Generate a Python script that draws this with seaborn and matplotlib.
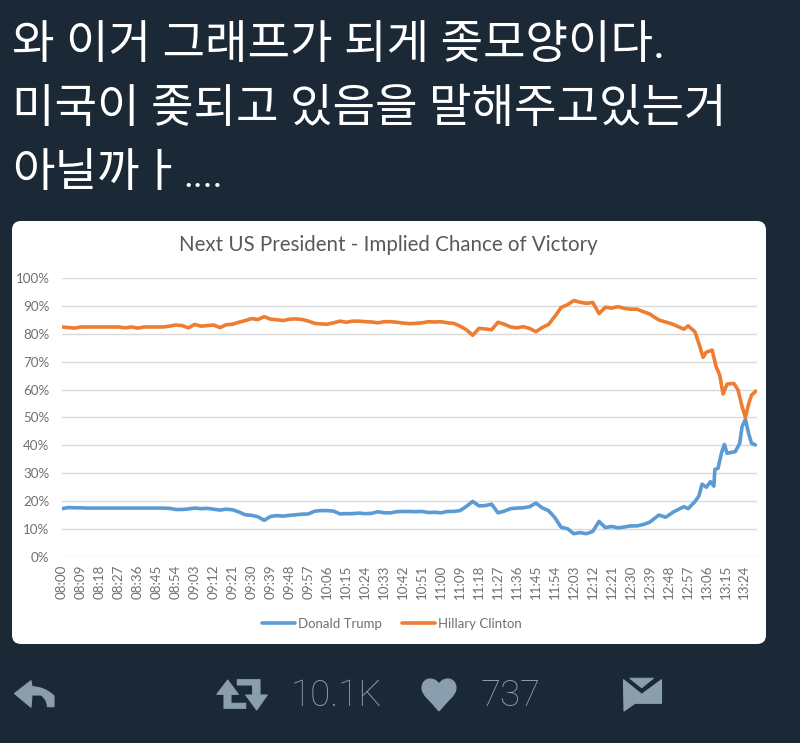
import numpy as np
import pandas as pd
import matplotlib
matplotlib.use("Agg")
import matplotlib.pyplot as plt
from matplotlib.patches import FancyBboxPatch, Polygon, PathPatch
from matplotlib.path import Path
import seaborn as sns

trump_minutes = list(range(0, 282, 3)) + [283.4,286.6,290.5,295.3,297.3,300.5,302.4,303.9,306,307.9,309.5,310,311.5,
                                          313.1,314.5,315.8,319.7,321.8,322.9,324.5,326,327.4,329.3]
trump = [17.2,17.6,17.5,17.5,17.4,17.4,17.4,17.4,17.4,17.4,17.4,17.4,17.4,17.4,17.4,17.4,17.4,17.3,
         16.9,16.9,17.1,17.4,17.2,17.3,17.0,16.7,17.0,16.8,16.0,15.0,14.8,14.3,13.0,14.4,14.7,14.5,
         14.8,15.0,15.2,15.3,16.3,16.5,16.5,16.3,15.3,15.4,15.4,15.6,15.4,15.5,16.1,15.7,15.7,16.1,
         16.2,16.2,16.1,16.2,15.8,15.9,15.7,16.2,16.2,16.5,18.0,19.8,18.2,18.3,18.8,15.7,16.3,17.2,
         17.4,17.5,17.9,19.2,17.5,16.5,14.0,10.5,10.0,8.2,8.6,8.2,9.0,12.6,10.4,10.8,10.3,10.6,
         11.0,11.0,11.5,12.3,
         14.9,14.1,16.1,17.9,17.2,19.7,21.7,26.0,24.9,26.9,25.3,31.3,31.7,37.1,40.3,37.1,37.7,40.7,46.7,49.3,44.3,40.7,40.1]
clinton_minutes = list(range(0, 282, 3)) + [283.4,289.7,295.3,297.3,300.5,302.4,304.4,305.8,308.7,310.6,312.3,313.9,
                                            315.8,319,321,322.9,324.5,326.1,327.4,329.5]
clinton = [82.5,82.3,82.1,82.5,82.5,82.5,82.5,82.5,82.5,82.5,82.2,82.5,82.1,82.5,82.5,82.5,82.5,82.8,
           83.2,83.0,82.2,83.4,82.8,83.0,83.2,82.3,83.3,83.5,84.2,84.8,85.5,85.2,86.2,85.3,85.1,84.8,
           85.3,85.4,85.2,84.6,83.8,83.6,83.5,84.0,84.6,84.2,84.6,84.6,84.4,84.3,84.0,84.4,84.4,84.2,
           83.9,83.7,83.8,84.0,84.4,84.3,84.4,84.0,83.8,82.8,81.5,79.5,82.0,81.8,81.5,84.2,83.5,82.5,
           82.2,82.6,82.0,80.8,82.3,83.4,86.3,89.5,90.5,92.0,91.4,91.0,91.3,87.3,89.6,89.3,89.8,89.2,
           88.9,88.9,88.0,87.2,
           85.0,83.6,81.7,82.9,80.8,76.6,71.6,73.4,74.2,68.2,65.2,58.4,62.0,62.2,59.9,53.9,50.0,55.0,58.0,59.5]
tick_minutes = list(range(0, 325, 9))
y_ticks = list(range(0, 101, 10))
series_names = ["Donald Trump", "Hillary Clinton"]
series_colors = ["#5B9BD5", "#ED7D31"]
headline = ["와 이거 그래프가 되게 좆모양이다.", "미국이 좆되고 있음을 말해주고있는거", "아닐까ㅏ"]
headline_tail = "...."
title = "Next US President - Implied Chance of Victory"
retweets = "10.1K"
likes = "737"

BG = "#1B2836"
ICON = "#8B9EAD"
GREY = "#707070"

sns.set_theme(style="white")
plt.rcParams["font.family"] = ["Lato", "DejaVu Sans"]

W, H = 800, 743
fig = plt.figure(figsize=(W / 100, H / 100), dpi=100, facecolor=BG)

ov = fig.add_axes([0, 0, 1, 1], zorder=0)
ov.set_xlim(0, W); ov.set_ylim(H, 0); ov.axis("off")
ov.add_patch(FancyBboxPatch((12 + 9, 221 + 9), 754 - 18, 423 - 18, boxstyle="round,pad=9", fc="white", ec="none"))

kr = ["Roboto", "Noto Sans CJK KR", "DejaVu Sans"]
for text, yb in zip(headline, [58, 122, 186]):
    ov.text(12, yb, text, color="white", fontsize=33.3, family=kr, va="baseline", ha="left")
ov.text(183, 187, headline_tail, color="white", fontsize=27, family="Roboto", va="baseline", ha="left")

ov.text(388.5, 245, title, color="#595959", fontsize=14.8, ha="center", va="center")

icon = dict(fc=ICON, ec=ICON, lw=0.8, joinstyle="round")
ov.add_patch(PathPatch(Path([(14.5, 693.5), (31, 680.7), (32, 686.7), (45, 687), (54, 696), (54, 706.7), (47.5, 706.7),
                             (47, 699), (41, 695), (32, 695), (31, 707.3), (14.5, 693.5)],
                            [Path.MOVETO, Path.LINETO, Path.LINETO, Path.CURVE3, Path.CURVE3, Path.LINETO, Path.LINETO,
                             Path.CURVE3, Path.CURVE3, Path.LINETO, Path.LINETO, Path.CLOSEPOLY]), **icon))
ov.add_patch(Polygon([(227.7, 680), (216.9, 694.3), (224, 694.3), (224, 708.3), (245.7, 708.3), (245.7, 703.3),
                      (231, 703.3), (231, 694.3), (238.3, 694.3)], closed=True, **icon))
ov.add_patch(Polygon([(256.7, 710), (267.3, 695), (260, 695), (260, 679.7), (237.3, 679.7), (237.3, 685),
                      (252.7, 685), (252.7, 695), (245.7, 695)], closed=True, **icon))
heart = Path([(439, 711), (430, 700), (422, 695), (422, 688), (422, 682), (426, 679), (430, 679), (434, 679), (437, 681),
              (439, 684), (441, 681), (444, 679), (448, 679), (452, 679), (456, 682), (456, 688), (456, 695), (448, 700), (439, 711)],
             [Path.MOVETO] + [Path.CURVE4] * 18)
ov.add_patch(PathPatch(heart, **icon))
ov.add_patch(Polygon([(623.5, 679.7), (641.7, 694.3), (661.5, 679.7), (661.5, 703.3), (635, 703.3), (624, 711)], closed=True, **icon))
ov.add_patch(Polygon([(630, 678.3), (653.3, 678.3), (641.7, 687.7)], closed=True, **icon))
ov.text(291, 696, retweets, color=ICON, fontsize=26.4, family="Roboto", fontweight="light", va="center", ha="left")
ov.text(481, 696, likes, color=ICON, fontsize=26.4, family="Roboto", fontweight="light", va="center", ha="left")

left, right, top, bottom = 62, 757, 278.3, 556.5
ax = fig.add_axes([left / W, 1 - bottom / H, (right - left) / W, (bottom - top) / H], zorder=1)
ax.patch.set_alpha(0)
df = pd.DataFrame({"minute": trump_minutes + clinton_minutes,
                   "value": trump + clinton,
                   "series": [series_names[0]] * len(trump) + [series_names[1]] * len(clinton)})
sns.lineplot(data=df, x="minute", y="value", hue="series", hue_order=series_names,
             palette=series_colors, linewidth=2.6, ax=ax, legend=True, errorbar=None)
ax.set_xlim(0, 330); ax.set_ylim(0, 100)
ax.set_xlabel(""); ax.set_ylabel("")
ax.set_yticks(y_ticks)
ax.set_yticklabels([f"{v}%" for v in y_ticks], fontsize=9.6, color=GREY)
ax.set_xticks(tick_minutes)
ax.set_xticklabels([f"{8 + m // 60:02d}:{m % 60:02d}" for m in tick_minutes], rotation=90, fontsize=9.6, color=GREY)
ax.tick_params(axis="x", length=0, pad=6)
ax.tick_params(axis="y", length=0, pad=9)
ax.grid(axis="y", color="#D9D9D9", linewidth=1.0)
ax.grid(axis="x", visible=False)
ax.set_axisbelow(True)
for s in ax.spines.values():
    s.set_visible(False)
leg = ax.legend(loc="center", bbox_to_anchor=(0.475, -0.241), ncols=2, frameon=False, fontsize=9.5,
                handlelength=2.5, columnspacing=1.5, handletextpad=0.25, labelcolor=GREY)
fig.savefig("out.png", dpi=100, facecolor=BG)
